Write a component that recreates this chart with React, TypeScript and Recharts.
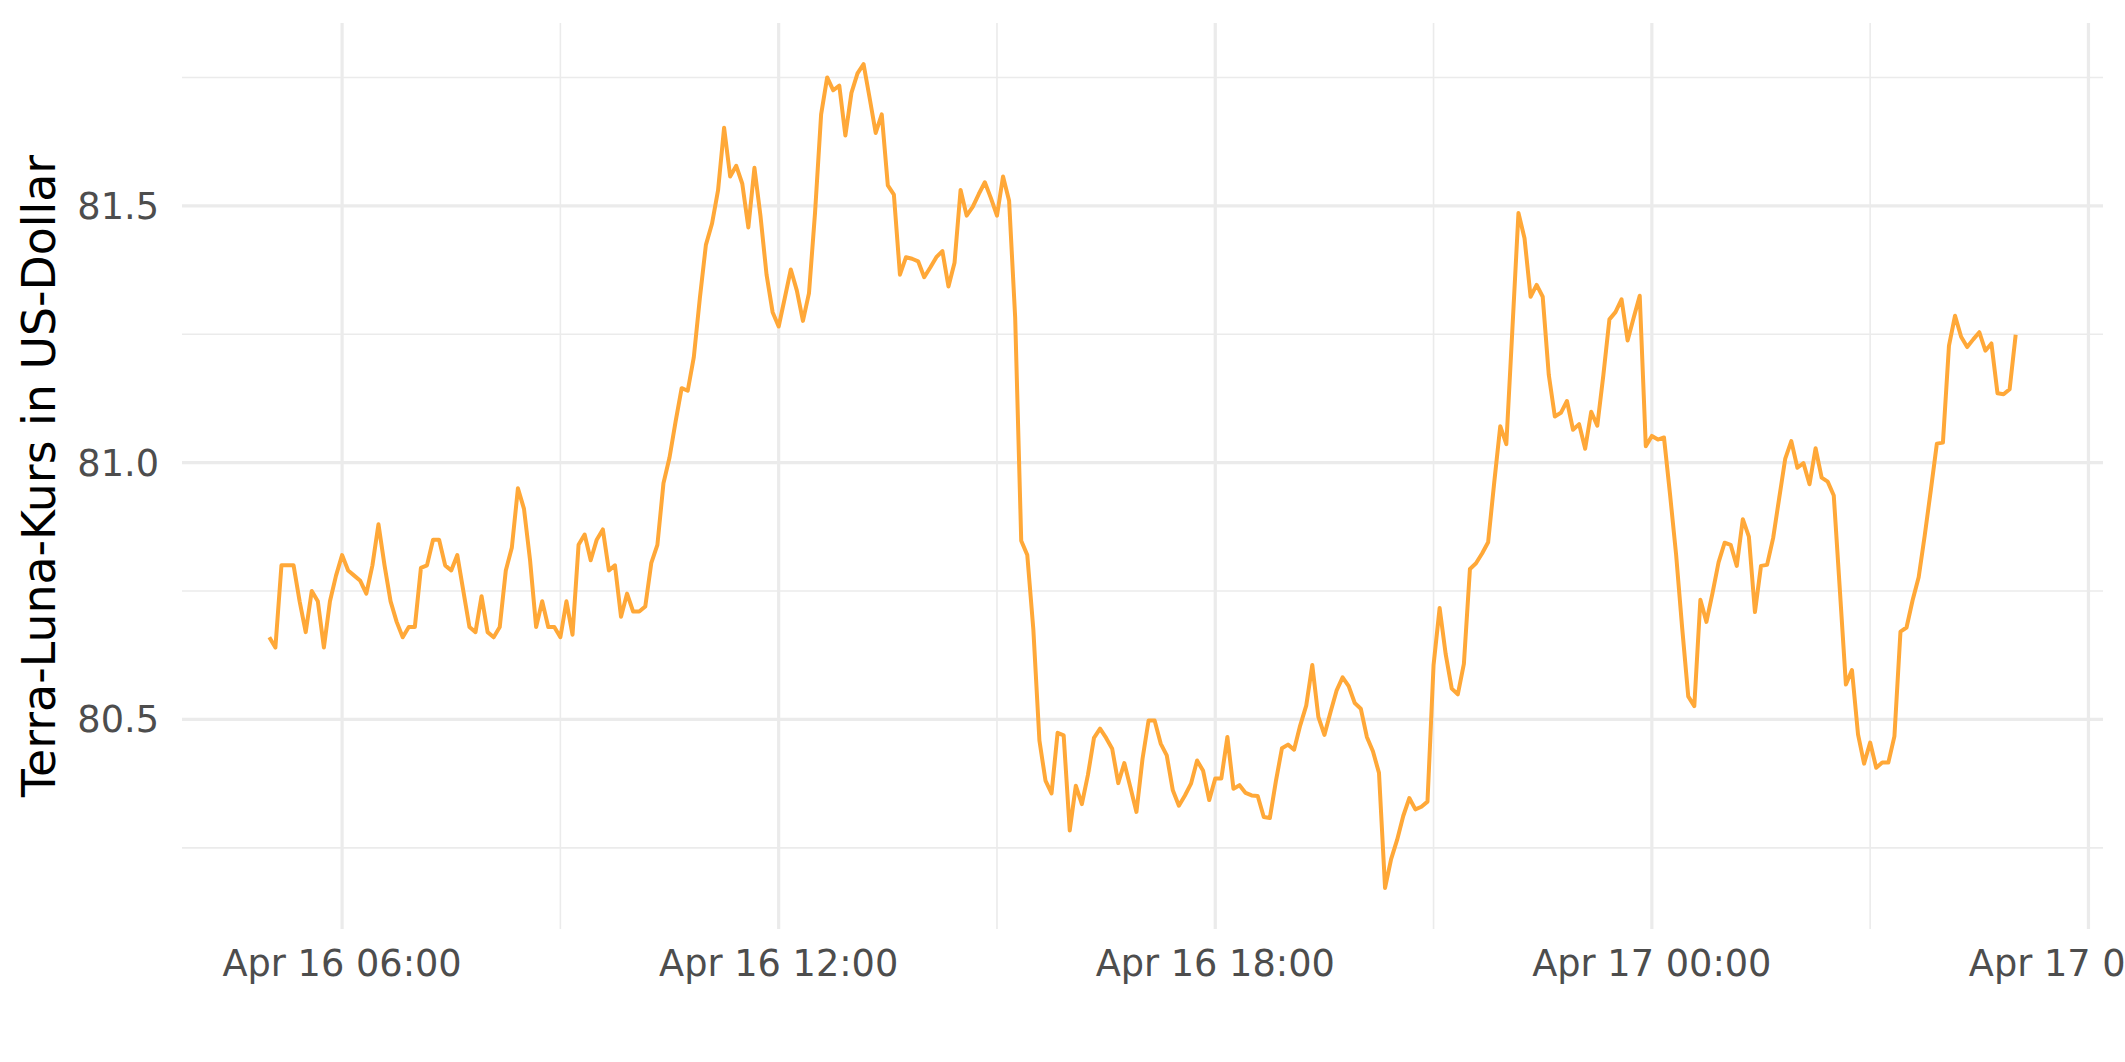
import { LineChart, Line, XAxis, YAxis, CartesianGrid, Label } from 'recharts';

// 5-minute closes, Apr 16 05:00 -> Apr 17 05:00 (minutes since Apr 16 00:00)
const START_MIN = 300;
const STEP_MIN = 5;

const PRICE_0500_1055 = [
  80.66, 80.64, 80.80, 80.80, 80.80, 80.73, 80.67, 80.75, 80.73, 80.64,
  80.73, 80.78, 80.82, 80.79, 80.78, 80.77, 80.745, 80.80, 80.88, 80.80,
  80.73, 80.69, 80.66, 80.68, 80.68, 80.795, 80.80, 80.85, 80.85, 80.80,
  80.79, 80.82, 80.75, 80.68, 80.67, 80.74, 80.67, 80.66, 80.68, 80.79,
  80.835, 80.95, 80.91, 80.81, 80.68, 80.73, 80.68, 80.68, 80.66, 80.73,
  80.665, 80.84, 80.86, 80.81, 80.85, 80.87, 80.79, 80.80, 80.70, 80.745,
  80.71, 80.71, 80.72, 80.805, 80.84, 80.96, 81.01, 81.08, 81.145, 81.14,
  81.205, 81.32,
];

const PRICE_1100_1655 = [
  81.424, 81.465, 81.53, 81.652, 81.557, 81.578, 81.543, 81.458, 81.574, 81.48,
  81.366, 81.293, 81.265, 81.32, 81.376, 81.335, 81.276, 81.33, 81.487, 81.678,
  81.75, 81.725, 81.734, 81.637, 81.72, 81.758, 81.776, 81.71, 81.642, 81.678,
  81.54, 81.522, 81.366, 81.40, 81.397, 81.392, 81.361, 81.38, 81.40, 81.412,
  81.343, 81.389, 81.531, 81.481, 81.498, 81.523, 81.546, 81.515, 81.481, 81.557,
  81.51, 81.283, 80.848, 80.82, 80.675, 80.459, 80.381, 80.356, 80.474, 80.469,
  80.284, 80.371, 80.335, 80.392, 80.464, 80.482, 80.464, 80.443, 80.376, 80.415,
  80.368, 80.32,
];

const PRICE_1700_2255 = [
  80.423, 80.498, 80.498, 80.453, 80.43, 80.362, 80.332, 80.352, 80.375, 80.42,
  80.40, 80.343, 80.385, 80.385, 80.466, 80.365, 80.372, 80.357, 80.352, 80.351,
  80.31, 80.308, 80.38, 80.444, 80.451, 80.441, 80.488, 80.527, 80.606, 80.505,
  80.47, 80.514, 80.556, 80.582, 80.565, 80.532, 80.521, 80.466, 80.438, 80.396,
  80.172, 80.228, 80.266, 80.312, 80.347, 80.325, 80.33, 80.34, 80.606, 80.717,
  80.627, 80.56, 80.549, 80.608, 80.793, 80.804, 80.823, 80.845, 80.961, 81.071,
  81.036, 81.26, 81.486, 81.437, 81.323, 81.346, 81.323, 81.171, 81.09, 81.097,
  81.12, 81.064,
];

const PRICE_2300_0500 = [
  81.075, 81.027, 81.099, 81.072, 81.17, 81.279, 81.293, 81.318, 81.238, 81.282,
  81.325, 81.032, 81.052, 81.045, 81.049, 80.938, 80.821, 80.678, 80.545, 80.526,
  80.733, 80.69, 80.746, 80.806, 80.844, 80.84, 80.799, 80.89, 80.856, 80.709,
  80.799, 80.801, 80.853, 80.931, 81.008, 81.042, 80.99, 80.999, 80.958, 81.028,
  80.971, 80.963, 80.936, 80.753, 80.568, 80.596, 80.471, 80.414, 80.455, 80.406,
  80.416, 80.416, 80.467, 80.671, 80.679, 80.732, 80.777, 80.858, 80.946, 81.037,
  81.039, 81.228, 81.286, 81.245, 81.225, 81.24, 81.254, 81.218, 81.232, 81.135,
  81.133, 81.143, 81.249,
];

const X_TICKS = [360, 720, 1080, 1440, 1800];
const X_MINOR = [540, 900, 1260, 1620];
const Y_TICKS = [80.5, 81.0, 81.5];
const Y_MINOR = [80.25, 80.75, 81.25, 81.75];

const X_DOMAIN: [number, number] = [228, 1812];
const Y_DOMAIN: [number, number] = [80.092, 81.856];

const LINE_COLOR = '#FFA838';
const GRID_COLOR = '#EBEBEB';
const FONT = '"DejaVu Sans", sans-serif';

const prices = [...PRICE_0500_1055, ...PRICE_1100_1655, ...PRICE_1700_2255, ...PRICE_2300_0500];
const data = prices.map((price, i) => ({ t: START_MIN + i * STEP_MIN, price }));

const formatTime = (t: number) => {
  const day = t >= 1440 ? 17 : 16;
  const hh = Math.floor((t % 1440) / 60);
  return `Apr ${day} ${String(hh).padStart(2, '0')}:00`;
};

const tickStyle = { fill: '#4D4D4D', fontSize: 36.7, fontFamily: FONT };

const YTitle = (props: any) => {
  const vb = props.viewBox || { x: 0, y: 0, width: 0, height: 0 };
  const x = vb.x + 55;
  const y = vb.y + vb.height / 2;
  return (
    <text
      x={x}
      y={y}
      transform={`rotate(-90 ${x} ${y})`}
      textAnchor="middle"
      fill="#000000"
      fontSize={45.8}
      fontFamily={FONT}
    >
      Terra-Luna-Kurs in US-Dollar
    </text>
  );
};

export default function App() {
  return (
    <div style={{ position: 'absolute', left: 0, top: 0, width: 2125, height: 1062, background: '#ffffff' }}>
      <LineChart width={2125} height={1062} data={data} margin={{ top: 23, right: 22, bottom: 0, left: 0 }}>
        <CartesianGrid
          stroke={GRID_COLOR}
          strokeWidth={1.6}
          horizontalValues={Y_MINOR}
          verticalValues={X_MINOR}
        />
        <CartesianGrid
          stroke={GRID_COLOR}
          strokeWidth={3.2}
          horizontalValues={Y_TICKS}
          verticalValues={X_TICKS}
        />
        <XAxis
          type="number"
          dataKey="t"
          domain={X_DOMAIN}
          ticks={X_TICKS}
          interval={0}
          allowDataOverflow
          tickFormatter={formatTime}
          axisLine={false}
          tickLine={false}
          tickSize={0}
          tickMargin={21}
          height={133}
          tick={tickStyle}
        />
        <YAxis
          type="number"
          domain={Y_DOMAIN}
          ticks={Y_TICKS}
          interval={0}
          allowDataOverflow
          tickFormatter={(v: number) => v.toFixed(1)}
          axisLine={false}
          tickLine={false}
          tickSize={0}
          tickMargin={23}
          width={182}
          tick={tickStyle}
        >
          <Label content={YTitle} />
        </YAxis>
        <Line
          type="linear"
          dataKey="price"
          stroke={LINE_COLOR}
          strokeWidth={4}
          strokeLinejoin="round"
          dot={false}
          activeDot={false}
          isAnimationActive={false}
        />
      </LineChart>
    </div>
  );
}
